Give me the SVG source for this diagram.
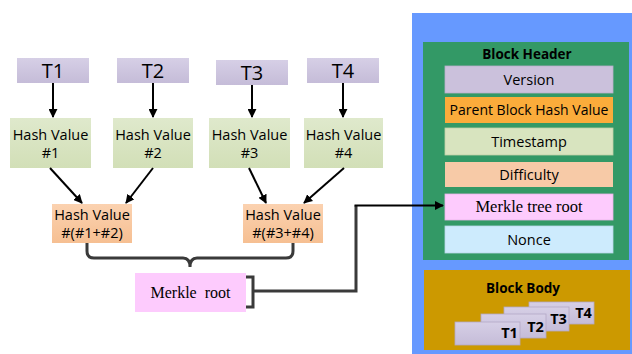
<svg xmlns="http://www.w3.org/2000/svg" width="632" height="354" viewBox="0 0 632 354">
<defs>
<linearGradient id="gT" x1="0" y1="0" x2="0" y2="1"><stop offset="0" stop-color="#d6cfe6"/><stop offset="1" stop-color="#c5bcd8"/></linearGradient>
<linearGradient id="gH" x1="0" y1="0" x2="0" y2="1"><stop offset="0" stop-color="#dfe9cc"/><stop offset="1" stop-color="#d2dfb7"/></linearGradient>
<linearGradient id="gP" x1="0" y1="0" x2="0" y2="1"><stop offset="0" stop-color="#fbd2b0"/><stop offset="1" stop-color="#f6bf92"/></linearGradient>
<marker id="ah" viewBox="0 0 10 10" refX="9" refY="5" markerWidth="4.5" markerHeight="4.5" orient="auto" markerUnits="strokeWidth"><path d="M0,0 L10,5 L0,10 z" fill="#000"/></marker>
<style>
.t{font-family:"Open Sans","Liberation Sans",sans-serif;fill:#000;text-anchor:middle}
.s{font-family:"Liberation Serif","Times New Roman",serif;fill:#000;text-anchor:middle}
.b{font-family:"Open Sans","Liberation Sans",sans-serif;font-weight:bold;fill:#000;text-anchor:middle}
.arr{stroke:#000;stroke-width:2;fill:none;marker-end:url(#ah)}
.ln{stroke:#3a3a3a;stroke-width:3;fill:none}
.card{fill:url(#gT);stroke:#b3a8c6;stroke-width:0.8}
</style>
</defs>
<rect width="632" height="354" fill="#fff"/>

<g id="T1"><rect x="17" y="58" width="72" height="25" fill="url(#gT)"/><text class="t" x="53" y="77.5" font-size="20">T1</text></g>
<g id="T2"><rect x="117" y="58" width="72" height="25" fill="url(#gT)"/><text class="t" x="153" y="77.5" font-size="20">T2</text></g>
<g id="T3"><rect x="216" y="60" width="72" height="25" fill="url(#gT)"/><text class="t" x="252" y="79.5" font-size="20">T3</text></g>
<g id="T4"><rect x="307" y="58" width="72" height="25" fill="url(#gT)"/><text class="t" x="343" y="77.5" font-size="20">T4</text></g>

<g id="H1"><rect x="10" y="118" width="81" height="50" fill="url(#gH)"/><text class="t" x="50.5" y="140" font-size="14.5">Hash Value</text><text class="t" x="50.5" y="158" font-size="14.5">#1</text></g>
<g id="H2"><rect x="113" y="118" width="80" height="50" fill="url(#gH)"/><text class="t" x="153" y="140" font-size="14.5">Hash Value</text><text class="t" x="153" y="158" font-size="14.5">#2</text></g>
<g id="H3"><rect x="209" y="118" width="81" height="50" fill="url(#gH)"/><text class="t" x="249.5" y="140" font-size="14.5">Hash Value</text><text class="t" x="249.5" y="158" font-size="14.5">#3</text></g>
<g id="H4"><rect x="304" y="118" width="79" height="50" fill="url(#gH)"/><text class="t" x="343.5" y="140" font-size="14.5">Hash Value</text><text class="t" x="343.5" y="158" font-size="14.5">#4</text></g>

<g id="H12"><rect x="52" y="204" width="80" height="39" fill="url(#gP)"/><text class="t" x="92" y="220" font-size="14.5">Hash Value</text><text class="t" x="92" y="238" font-size="14.5">#(#1+#2)</text></g>
<g id="H34"><rect x="243" y="204" width="80" height="39" fill="url(#gP)"/><text class="t" x="283" y="220" font-size="14.5">Hash Value</text><text class="t" x="283" y="238" font-size="14.5">#(#3+#4)</text></g>

<g id="MR"><rect x="135" y="273" width="111" height="39" fill="#fdcbfd"/><text class="s" x="190.5" y="298" font-size="16" word-spacing="4">Merkle root</text></g>

<g id="block">
<rect x="412" y="13" width="220" height="341" fill="#6699ff"/>
<g id="header">
<rect x="423" y="42" width="206" height="218" fill="#339966"/>
<text class="b" x="527" y="58.5" font-size="13.5">Block Header</text>
</g>
<g id="version"><rect x="445" y="66" width="168" height="27" fill="#cbc1dc" stroke="#b8aecb" stroke-width="0.8"/><text class="t" x="529" y="85" font-size="14.5">Version</text></g>
<g id="parent"><rect x="445" y="97" width="168" height="26" fill="#fbac3b"/><text class="t" x="529" y="115" font-size="14">Parent Block Hash Value</text></g>
<g id="timestamp"><rect x="445" y="128" width="168" height="27" fill="#d8e4bf" stroke="#c2cfa8" stroke-width="0.8"/><text class="t" x="529" y="146.5" font-size="14.5">Timestamp</text></g>
<g id="difficulty"><rect x="445" y="162" width="168" height="25" fill="#f7caa7"/><text class="t" x="529" y="179.5" font-size="14.5">Difficulty</text></g>
<g id="mtr"><rect x="445" y="194" width="168" height="26" fill="#fdcbfd" stroke="#e8b5e8" stroke-width="0.8"/><text class="s" x="529" y="212" font-size="16.5">Merkle tree root</text></g>
<g id="nonce"><rect x="445" y="226" width="168" height="27" fill="#cdebfd" stroke="#b8d6e8" stroke-width="0.8"/><text class="t" x="529" y="244.5" font-size="14.5">Nonce</text></g>
<g id="body">
<rect x="424" y="270" width="206" height="80" fill="#cc9900"/>
<text class="b" x="523" y="292.5" font-size="13.5">Block Body</text>
<rect class="card" x="529" y="302" width="65" height="22"/><text class="b" x="583.5" y="317.5" font-size="14.5">T4</text>
<rect class="card" x="504" y="307" width="65" height="24"/><text class="b" x="558.5" y="323.5" font-size="14.5">T3</text>
<rect class="card" x="481" y="314" width="65" height="24"/><text class="b" x="535.5" y="331.5" font-size="14.5">T2</text>
<rect class="card" x="455" y="322" width="65" height="23"/><text class="b" x="509.5" y="337.5" font-size="14.5">T1</text>
</g>
</g>

<g id="connectors">
<line class="arr" x1="53" y1="83" x2="53" y2="117"/>
<line class="arr" x1="153" y1="83" x2="153" y2="117"/>
<line class="arr" x1="252" y1="85" x2="252" y2="117"/>
<line class="arr" x1="343" y1="83" x2="343" y2="117"/>
<line class="arr" x1="50" y1="168" x2="82" y2="203"/>
<line class="arr" x1="153" y1="168" x2="126" y2="203"/>
<line class="arr" x1="249" y1="168" x2="266" y2="203"/>
<line class="arr" x1="344" y1="168" x2="304" y2="203"/>
<path class="ln" d="M87,243 V251 Q87,258 94,258 H183 Q190,258 190,267 Q190,258 197,258 H286 Q293,258 293,251 V243"/>
<path class="ln" d="M246,277 H253 V307 H246"/>
<path class="ln" d="M253,291 H356 V205.5"/>
<path class="arr" d="M354.5,205.5 H443" stroke-width="2.5"/>
</g>
</svg>
